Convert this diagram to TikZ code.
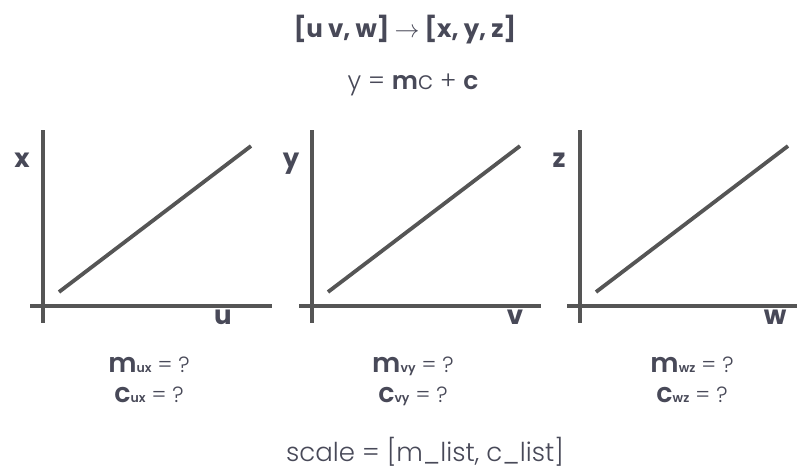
\documentclass[tikz,border=0pt]{standalone}
\usepackage{fontspec}
\setmainfont{Poppins}
\newfontfamily\lightfont{Poppins Light}
\usetikzlibrary{positioning}

\definecolor{inkcol}{RGB}{72,73,88}
\definecolor{axiscol}{RGB}{85,85,85}

\tikzset{
  axisline/.style={draw=axiscol, line width=3.8pt},
  fitline/.style={draw=axiscol, line width=3.8pt},
  axislabel/.style={text=inkcol, inner sep=0pt, anchor=base, font=\bfseries\fontsize{26}{26}\selectfont},
  coeflabel/.style={text=inkcol, inner sep=0pt, anchor=base, font=\lightfont\fontsize{22}{22}\selectfont},
  headlabel/.style={text=inkcol, inner sep=0pt, anchor=base},
}

\begin{document}
\begin{tikzpicture}[x=1pt, y=-1pt]
  \useasboundingbox (0,0) rectangle (798,471);

  % heading
  \node[headlabel, font=\bfseries\fontsize{24.5}{24.5}\selectfont] (title) at (405,37)
    {[u v, w] $\rightarrow$ [x, y, z]};
  \node[headlabel, font=\lightfont\fontsize{25}{25}\selectfont] (formula) at (413,89)
    {y = {\bfseries m}c + {\bfseries c}};

  % the three plots
  \foreach \i/\vx/\ylab/\xlab/\xoff/\cx/\sub in
      {1/43/x/u/180/149/ux, 2/312/y/v/203/413/vy, 3/580/z/w/195/692/wz} {
    \coordinate (top\i) at (\vx,130);
    \coordinate (bot\i) at (\vx,323);
    \coordinate (left\i) at (\vx-13,306);
    \coordinate (right\i) at ({min(\vx+229,797)},306);
    \coordinate (lo\i) at (\vx+16,292);
    \coordinate (hi\i) at (\vx+208,146);
    \draw[axisline] (top\i) -- (bot\i);
    \draw[axisline] (left\i) -- (right\i);
    \draw[fitline] (lo\i) -- (hi\i);

    \node[axislabel] (ylab\i) at (\vx-21,167) {\ylab};
    \node[axislabel] (xlab\i) at (\vx+\xoff,324) {\xlab};

    % coefficients
    \node[coeflabel] (m\i) at (\cx,372)
      {{\bfseries\fontsize{27}{27}\selectfont m}{\bfseries\fontsize{12.5}{12.5}\selectfont\sub} = ?};
    \node[coeflabel] (c\i) at (\cx,402)
      {{\bfseries\fontsize{27}{27}\selectfont c}{\bfseries\fontsize{12.5}{12.5}\selectfont\sub} = ?};
  }

  \node[coeflabel, font=\lightfont\fontsize{26}{26}\selectfont] (scale) at (425,461)
    {scale = [m\_list, c\_list]};
\end{tikzpicture}
\end{document}
